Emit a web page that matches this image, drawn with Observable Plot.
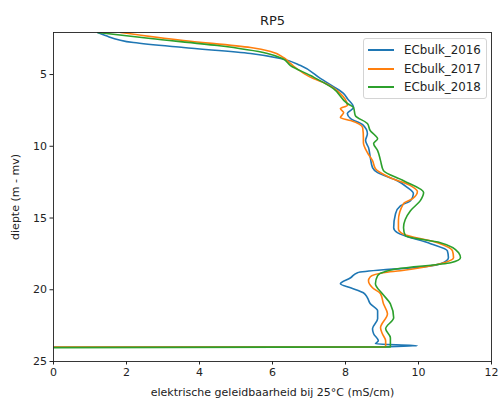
<!DOCTYPE html>
<html>
<head>
<meta charset="utf-8">
<script src="https://cdn.jsdelivr.net/npm/d3@7"></script>
<script src="https://cdn.jsdelivr.net/npm/@observablehq/plot@0.6"></script>
<style>
  body { margin: 0; background: #fff; font-family: "DejaVu Sans", sans-serif; }
  #wrap { position: relative; width: 503px; height: 401px; }
  #legend { position: absolute; left: 363px; top: 38px; width: 122px; height: 59px;
    border: 1px solid #d4d4d4; border-radius: 3px; background: rgba(255,255,255,0.85);
    font-size: 11.8px; color: #222; }
  .row { position: absolute; left: 4px; height: 14px; display: flex; align-items: center; }
  .sw { width: 26px; height: 2px; margin-right: 10px; }
</style>
</head>
<body>
<div id="wrap"></div>
<script>
const series = ["ECbulk_2016", "ECbulk_2017", "ECbulk_2018"];
const colors = ["#1f77b4", "#ff7f0e", "#2ca02c"];
const xTicks = [0, 2, 4, 6, 8, 10, 12];
const yTicks = [5, 10, 15, 20, 25];

// EC (mS/cm) and depth (m - mv) per series
const ec2016 = [1.21,1.42,2.19,3.56,5.40,6.22,6.77,7.32,7.67,7.95,8.05,8.22,8.05,8.14,8.47,8.60,8.55,8.63,8.68,8.74,8.88,9.42,9.70,9.86,9.78,9.51,9.37,9.32,9.42,10.33,10.79,10.82,10.60,9.86,9.04,8.33,8.14,7.86,8.14,8.49,8.60,8.68,8.88,8.88,8.74,8.77,8.90,8.82,9.97,8.96,0];
const d2016  = [2.07,2.28,2.77,3.12,3.53,3.88,4.37,5.28,5.84,6.33,6.67,7.30,7.72,8.07,8.49,9.12,9.60,10.09,10.79,11.49,11.84,12.40,12.88,13.30,13.79,14.14,14.70,15.67,16.02,16.79,17.28,17.77,18.19,18.47,18.61,18.81,19.16,19.58,19.86,20.21,20.56,20.98,21.47,22.02,22.72,23.07,23.56,23.77,23.91,23.98,24.01];

const ec2017 = [1.84,3.56,5.40,5.95,6.30,6.49,7.12,7.40,7.86,8.05,7.86,7.95,7.86,8.14,8.47,8.49,8.49,8.60,8.74,8.82,9.23,9.78,9.97,9.84,9.59,9.45,9.45,9.56,10.52,10.93,10.96,10.60,9.51,9.04,8.68,8.63,8.74,8.96,9.04,9.15,8.96,9.01,9.10,9.10,0];
const d2017  = [2.07,2.63,3.12,3.40,3.81,4.23,5.28,5.56,6.33,7.16,7.37,7.65,8.00,8.21,8.70,9.40,9.74,10.44,11.00,11.56,12.19,12.74,13.16,13.65,14.00,15.19,15.74,16.09,16.72,17.28,17.77,18.19,18.67,18.81,19.09,19.37,19.86,20.28,20.98,21.67,22.65,23.07,23.56,23.98,24.00];

const ec2018 = [1.21,2.66,4.49,5.86,6.27,6.49,7.04,7.67,8.05,8.22,8.27,8.60,8.68,8.82,8.88,8.77,8.88,8.96,9.04,9.59,10.14,10.05,9.78,9.59,9.64,10.60,11.10,11.15,10.88,9.42,8.88,8.82,9.01,9.23,9.32,9.10,9.23,9.23,0];
const d2018  = [2.07,2.49,2.98,3.53,3.88,4.37,5.07,5.98,7.02,7.30,7.86,8.42,8.91,9.26,9.47,9.81,10.30,11.00,11.70,12.40,13.23,13.79,14.49,15.67,16.23,16.72,17.42,17.77,18.12,18.54,19.02,19.58,20.28,20.98,21.95,22.72,23.35,23.98,24.03];

const toRows = (ec, d) => ec.map((v, i) => ({ec: v, depth: d[i]}));
const rows = [toRows(ec2016, d2016), toRows(ec2017, d2017), toRows(ec2018, d2018)];

const chart = Plot.plot({
  width: 503,
  height: 401,
  marginLeft: 53,
  marginRight: 12,
  marginTop: 32,
  marginBottom: 40,
  style: { fontFamily: "DejaVu Sans, sans-serif", fontSize: "11px", color: "#222", background: "white" },
  x: { domain: [0, 12], ticks: xTicks, tickSize: 3.5, tickPadding: 3,
       label: "elektrische geleidbaarheid bij 25°C (mS/cm)", labelAnchor: "center", labelArrow: "none", labelOffset: 34 },
  y: { domain: [25, 2.07], ticks: yTicks, tickSize: 3.5, tickPadding: 3,
       label: "diepte (m - mv)", labelAnchor: "center", labelArrow: "none", labelOffset: 42 },
  marks: [
    ...rows.map((r, i) => Plot.line(r, { x: "ec", y: "depth", stroke: colors[i], strokeWidth: 1.6, curve: "monotone-y", clip: true })),
    Plot.frame({ stroke: "#222", strokeWidth: 0.9 }),
    Plot.text(["RP5"], { frameAnchor: "top", dy: -17, fontSize: 13, fill: "#222" })
  ]
});
document.getElementById("wrap").appendChild(chart);

const legend = document.createElement("div");
legend.id = "legend";
series.forEach((s, i) => {
  const row = document.createElement("div");
  row.className = "row";
  row.style.top = (4 + i * 18.5) + "px";
  const sw = document.createElement("span");
  sw.className = "sw";
  sw.style.background = colors[i];
  const t = document.createElement("span");
  t.textContent = s;
  row.appendChild(sw); row.appendChild(t);
  legend.appendChild(row);
});
document.getElementById("wrap").appendChild(legend);
</script>
</body>
</html>
